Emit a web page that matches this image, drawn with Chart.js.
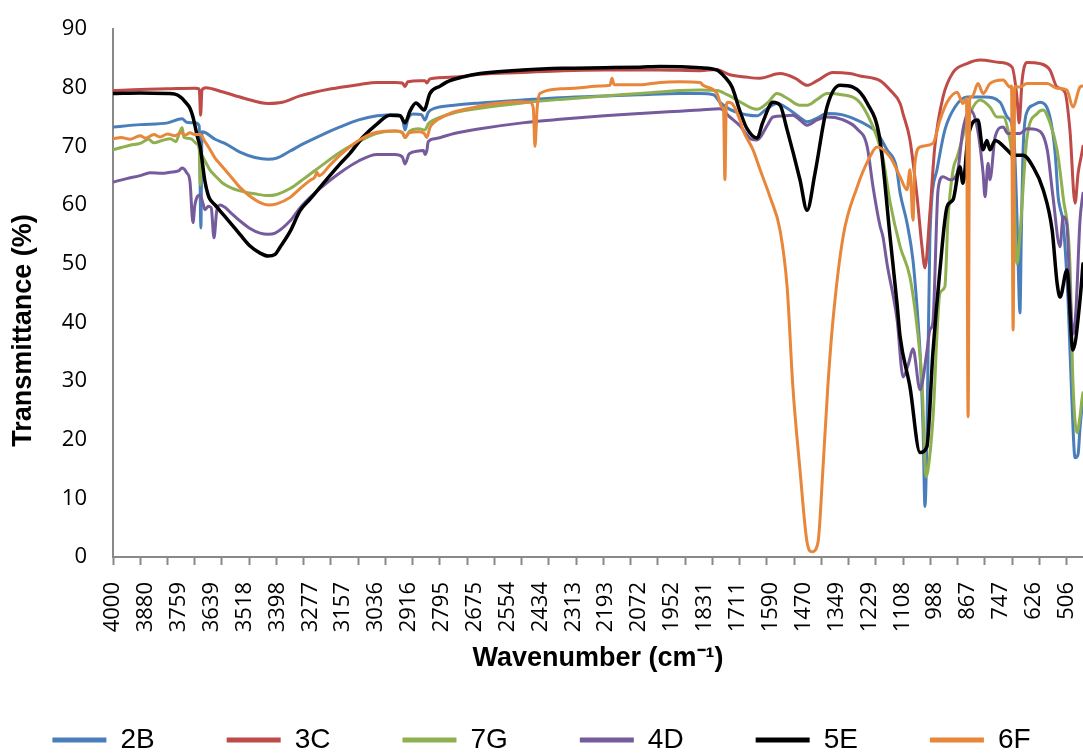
<!DOCTYPE html>
<html>
<head>
<meta charset="utf-8">
<title>FTIR spectra</title>
<script src="https://cdn.jsdelivr.net/npm/chart.js@4.4.1/dist/chart.umd.min.js"></script>
<style>
  html, body { margin: 0; padding: 0; background: #fff; }
  #wrap { width: 1083px; height: 753px; }
</style>
</head>
<body>
<div id="wrap"><canvas id="chart"></canvas></div>
<script>
// series names, in legend order
const seriesNames = ['2B', '3C', '7G', '4D', '5E', '6F'];

// category labels printed under the x axis (wavenumber, cm-1)
const xTickLabels = ['4000', '3880', '3759', '3639', '3518', '3398', '3277', '3157', '3036', '2916',
  '2795', '2675', '2554', '2434', '2313', '2193', '2072', '1952', '1831', '1711',
  '1590', '1470', '1349', '1229', '1108', '988', '867', '747', '626', '506'];

// 2B
const wn2B = [4000, 3900, 3800, 3747, 3730, 3700, 3684, 3678, 3674, 3660, 3626, 3590, 3535, 3480, 3432, 3400, 3351, 3300, 3242, 3168,
  3100, 3033, 2960, 2940, 2930, 2920, 2900, 2870, 2857, 2845, 2820, 2750, 2655, 2500, 2362, 2200, 2069, 1923, 1849, 1800,
  1776, 1740, 1714, 1680, 1640, 1610, 1567, 1530, 1480, 1457, 1420, 1384, 1330, 1280, 1237, 1200, 1164, 1130, 1116, 1091,
  1069, 1050, 1043, 1032, 1025, 1018, 1007, 981, 952, 915, 871, 805, 750, 724, 700, 688, 680, 677, 672, 665,
  650, 629, 603, 567, 548, 537, 530, 519, 501, 487, 475, 464, 457, 446];
const t2B = [73.3, 73.7, 74.0, 74.7, 74.1, 74.0, 73.5, 56.1, 72.5, 72.3, 71.2, 70.5, 69.0, 68.1, 67.8, 68.0, 69.2, 70.5, 71.8, 73.3,
  74.5, 75.2, 75.4, 74.8, 72.8, 74.6, 75.5, 75.4, 74.5, 75.8, 76.5, 77.0, 77.4, 77.9, 78.3, 78.6, 78.8, 79.0, 79.0, 78.8,
  77.5, 76.3, 75.8, 75.4, 75.2, 76.2, 77.3, 76.5, 74.8, 74.2, 74.8, 75.6, 75.4, 74.6, 73.6, 72.3, 69.4, 66.5, 62.0, 57.0,
  50.6, 40.0, 34.8, 22.0, 8.6, 20.0, 54.5, 66.0, 72.8, 76.7, 78.4, 78.4, 77.5, 75.0, 72.0, 58.0, 44.0, 41.6, 55.0, 70.0,
  76.0, 77.0, 77.5, 75.0, 68.8, 61.4, 59.5, 57.0, 44.0, 27.0, 16.9, 17.5, 22.0, 27.0];

// 3C
const wn3C = [4000, 3900, 3800, 3700, 3684, 3679, 3674, 3660, 3600, 3520, 3432, 3380, 3315, 3200, 3100, 3033, 2967, 2940, 2930, 2920,
  2875, 2857, 2850, 2839, 2750, 2655, 2500, 2350, 2200, 2000, 1849, 1790, 1740, 1680, 1630, 1556, 1500, 1457, 1420, 1362,
  1300, 1263, 1190, 1153, 1116, 1105, 1080, 1054, 1036, 1025, 1007, 989, 959, 922, 871, 823, 750, 706, 688, 680,
  669, 651, 603, 567, 541, 512, 494, 475, 464, 450, 446];
const t3C = [79.5, 79.7, 79.8, 79.9, 79.8, 75.3, 79.6, 80.0, 79.3, 78.2, 77.3, 77.5, 78.6, 79.8, 80.5, 80.9, 80.9, 80.8, 80.2, 81.0,
  81.2, 81.2, 80.8, 81.5, 81.8, 82.3, 82.6, 82.9, 83.0, 83.0, 82.9, 83.1, 82.2, 81.8, 81.6, 82.4, 81.6, 80.4, 81.2, 82.6,
  82.4, 82.0, 81.2, 79.6, 77.3, 75.5, 71.1, 61.4, 52.9, 49.3, 58.6, 69.9, 78.4, 82.6, 84.1, 84.7, 84.3, 83.5, 78.4, 74.0,
  81.3, 84.3, 84.1, 83.0, 80.1, 79.2, 72.8, 60.3, 65.4, 68.9, 70.0];

// 7G
const wn7G = [4000, 3970, 3938, 3900, 3870, 3850, 3820, 3790, 3770, 3755, 3747, 3740, 3715, 3695, 3684, 3680, 3676, 3663, 3645, 3626,
  3600, 3571, 3535, 3480, 3432, 3400, 3351, 3300, 3242, 3168, 3100, 3033, 2967, 2940, 2930, 2915, 2880, 2857, 2845, 2820,
  2750, 2655, 2500, 2362, 2200, 2069, 1923, 1849, 1787, 1750, 1703, 1660, 1640, 1600, 1567, 1530, 1483, 1457, 1420, 1384,
  1330, 1270, 1237, 1201, 1179, 1153, 1116, 1080, 1054, 1036, 1021, 1008, 996, 970, 952, 941, 922, 907, 860, 823,
  787, 761, 739, 721, 702, 688, 677, 651, 614, 592, 567, 541, 519, 494, 483, 468, 457, 450, 446];
const t7G = [69.4, 69.8, 70.2, 70.5, 71.2, 70.6, 71.0, 71.3, 70.8, 72.5, 73.2, 71.5, 71.3, 70.5, 69.5, 63.4, 68.5, 67.5, 66.0, 65.0,
  63.8, 63.0, 62.4, 61.9, 61.6, 61.8, 62.8, 64.5, 66.5, 69.0, 70.8, 72.2, 72.6, 72.4, 71.5, 72.5, 73.0, 72.8, 73.8, 74.6,
  75.7, 76.5, 77.4, 78.0, 78.6, 79.0, 79.5, 79.6, 79.5, 78.8, 77.6, 76.5, 76.3, 77.5, 79.0, 78.2, 77.0, 77.0, 78.0, 79.0,
  78.8, 77.8, 75.5, 71.6, 68.0, 60.5, 52.9, 47.7, 39.2, 30.0, 13.7, 17.0, 23.4, 45.0, 46.1, 57.4, 66.0, 68.2, 75.6, 77.9,
  76.7, 75.0, 75.0, 72.8, 66.0, 50.0, 55.0, 71.6, 75.6, 76.2, 74.0, 69.4, 61.4, 50.1, 30.0, 21.2, 24.0, 26.8, 28.0];

// 4D
const wn4D = [4000, 3950, 3900, 3864, 3820, 3790, 3760, 3747, 3730, 3718, 3707, 3700, 3681, 3670, 3663, 3650, 3640, 3630, 3620, 3608,
  3590, 3571, 3535, 3498, 3461, 3432, 3406, 3351, 3315, 3278, 3242, 3168, 3100, 3033, 2967, 2940, 2930, 2915, 2880, 2862,
  2857, 2850, 2845, 2820, 2750, 2655, 2500, 2362, 2200, 2069, 1923, 1849, 1776, 1740, 1703, 1660, 1640, 1600, 1582, 1540,
  1509, 1483, 1457, 1420, 1384, 1330, 1274, 1237, 1215, 1190, 1179, 1164, 1127, 1105, 1085, 1069, 1043, 1018, 1007, 996,
  977, 959, 933, 907, 886, 860, 834, 812, 805, 794, 787, 768, 739, 721, 677, 651, 614, 577, 556, 530,
  519, 505, 494, 483, 472, 457, 446];
const t4D = [63.9, 64.5, 65.0, 65.5, 65.4, 65.6, 65.8, 66.3, 65.5, 64.0, 57.0, 60.0, 61.7, 60.2, 59.2, 59.8, 59.5, 54.4, 59.0, 60.0,
  59.6, 58.8, 57.3, 56.0, 55.2, 55.0, 55.2, 57.3, 59.5, 61.3, 62.8, 65.5, 67.5, 68.6, 68.6, 68.2, 67.0, 68.7, 69.2, 69.3,
  68.6, 69.3, 70.8, 71.3, 72.2, 73.0, 74.0, 74.6, 75.2, 75.6, 76.0, 76.2, 76.4, 75.0, 73.5, 71.2, 71.1, 73.8, 75.0, 75.2,
  75.3, 74.5, 73.6, 74.5, 75.0, 74.6, 73.0, 70.0, 63.0, 56.5, 54.6, 50.0, 40.4, 30.7, 33.0, 35.5, 28.5, 35.0, 38.7, 40.0,
  62.6, 64.8, 64.3, 65.4, 72.8, 76.2, 73.3, 65.4, 61.4, 67.1, 64.3, 71.6, 73.3, 72.2, 72.2, 73.0, 72.8, 69.4, 61.4, 52.9,
  58.0, 56.6, 45.5, 38.0, 42.0, 57.4, 62.0];

// 5E
const wn5E = [4000, 3900, 3800, 3773, 3750, 3736, 3718, 3707, 3690, 3681, 3663, 3652, 3645, 3626, 3608, 3571, 3535, 3498, 3461, 3432,
  3406, 3388, 3351, 3315, 3278, 3242, 3168, 3132, 3084, 3033, 2985, 2948, 2930, 2912, 2890, 2860, 2839, 2800, 2776, 2720,
  2655, 2498, 2351, 2200, 2069, 1996, 1849, 1787, 1758, 1732, 1703, 1677, 1640, 1620, 1582, 1556, 1530, 1483, 1457, 1428,
  1384, 1336, 1289, 1237, 1190, 1153, 1127, 1116, 1080, 1043, 1018, 996, 970, 944, 922, 897, 886, 867, 831, 812,
  798, 787, 768, 724, 702, 666, 629, 592, 559, 541, 530, 505, 483, 457, 446];
const t5E = [79.0, 79.1, 79.0, 78.9, 78.3, 77.6, 76.5, 75.0, 71.5, 70.0, 64.0, 61.8, 61.0, 60.0, 59.0, 57.0, 55.0, 53.0, 51.8, 51.3,
  51.6, 52.8, 55.5, 59.0, 61.0, 63.0, 67.0, 68.8, 71.6, 73.8, 75.3, 75.2, 74.0, 76.0, 77.4, 76.2, 79.0, 80.3, 81.0, 81.8,
  82.4, 83.0, 83.3, 83.4, 83.5, 83.6, 83.4, 83.0, 81.8, 80.1, 76.0, 73.0, 71.4, 74.0, 77.5, 77.0, 72.8, 64.3, 59.1, 65.4,
  76.7, 80.4, 80.1, 77.4, 71.1, 54.6, 43.0, 37.5, 29.0, 17.8, 18.8, 34.8, 49.0, 59.7, 60.9, 66.5, 63.7, 71.6, 74.5, 69.4,
  71.0, 69.4, 71.0, 69.4, 68.5, 68.5, 66.5, 62.6, 55.7, 46.7, 44.3, 48.9, 35.3, 43.8, 50.0];

// 6F
const wn6F = [4000, 3970, 3938, 3901, 3880, 3850, 3828, 3800, 3773, 3750, 3736, 3718, 3700, 3681, 3663, 3645, 3626, 3608, 3571, 3535,
  3498, 3461, 3432, 3400, 3351, 3315, 3278, 3260, 3253, 3245, 3205, 3168, 3100, 3033, 2967, 2940, 2930, 2915, 2880, 2860,
  2850, 2839, 2820, 2765, 2692, 2600, 2509, 2472, 2460, 2454, 2446, 2436, 2362, 2289, 2216, 2179, 2172, 2164, 2069, 1996,
  1923, 1849, 1838, 1787, 1769, 1763, 1758, 1753, 1747, 1732, 1703, 1692, 1655, 1629, 1593, 1556, 1530, 1509, 1483, 1457,
  1439, 1417, 1399, 1381, 1362, 1325, 1274, 1227, 1201, 1153, 1116, 1091, 1080, 1069, 1062, 1043, 996, 970, 944, 907,
  886, 873, 867, 861, 853, 831, 812, 787, 739, 713, 708, 702, 696, 677, 651, 577, 541, 505, 483, 457, 446];
const t6F = [71.3, 71.5, 71.2, 71.8, 71.4, 72.0, 71.6, 72.1, 71.8, 72.3, 71.9, 72.3, 72.0, 72.0, 70.8, 69.5, 68.0, 67.0, 65.0, 63.0,
  61.5, 60.4, 60.0, 60.2, 61.3, 62.8, 64.2, 64.8, 65.6, 65.0, 66.8, 68.5, 71.0, 72.4, 72.6, 72.3, 71.5, 72.3, 72.5, 72.2,
  71.5, 73.2, 74.2, 75.6, 76.5, 77.3, 77.6, 77.5, 76.5, 70.0, 76.5, 79.0, 79.8, 80.0, 80.3, 80.4, 81.6, 80.5, 80.5, 80.9,
  81.0, 80.9, 80.4, 79.0, 76.7, 76.3, 64.3, 77.0, 77.5, 77.3, 74.5, 72.8, 69.4, 66.0, 61.4, 55.7, 46.0, 29.0, 14.9, 2.5,
  0.9, 2.5, 14.9, 29.0, 40.4, 54.6, 63.0, 68.2, 69.9, 68.2, 64.8, 62.6, 66.0, 57.4, 67.0, 69.9, 70.5, 74.5, 77.5, 79.2,
  77.3, 78.2, 23.9, 78.4, 78.4, 80.7, 79.0, 80.7, 81.3, 80.1, 80.3, 38.7, 80.2, 80.1, 80.7, 80.7, 79.9, 79.6, 76.7, 80.1,
  80.3];

const wavenumbers = [wn2B, wn3C, wn7G, wn4D, wn5E, wn6F];
const transmittance = [t2B, t3C, t7G, t4D, t5E, t6F];
const lineColors = ['#4A7EBB', '#BE4B48', '#8FB050', '#765B9C', '#000000', '#E8863A'];

const axisGray = '#898989';
const tickFont = { family: 'Open Sans', size: 22 };
const titleFont = { family: 'Liberation Sans', size: 27, weight: 'bold' };
const tickStep = (4000 - 506) / 35;

const datasets = seriesNames.map((name, i) => ({
  label: name,
  data: wavenumbers[i].map((w, j) => ({ x: w, y: transmittance[i][j] })),
  borderColor: lineColors[i],
  backgroundColor: lineColors[i],
  borderWidth: name === '5E' ? 3.5 : 3,
  pointRadius: 0,
  fill: false,
  cubicInterpolationMode: 'monotone',
  borderJoinStyle: 'round',
  borderCapStyle: 'round',
  order: seriesNames.length - i   // later series drawn on top, as in the original
}));

new Chart(document.getElementById('chart').getContext('2d'), {
  type: 'line',
  data: { datasets },
  options: {
    responsive: true,
    maintainAspectRatio: false,
    animation: false,
    devicePixelRatio: 1,
    parsing: false,
    layout: { padding: { top: 29, right: 0, bottom: -11, left: 0 } },
    plugins: {
      tooltip: { enabled: false },
      legend: {
        position: 'bottom',
        labels: {
          boxWidth: 54,
          boxHeight: 5,
          padding: 2,
          color: '#000',
          font: { family: 'Liberation Sans', size: 28 },
          generateLabels(chart) {
            const sets = chart.data.datasets;
            return sets.map((ds, i) => ({
              text: ds.label + (i < sets.length - 1 ? ' '.repeat(9) : ''),
              fillStyle: ds.borderColor,
              strokeStyle: ds.borderColor,
              lineWidth: 0,
              fontColor: '#000',
              hidden: false,
              datasetIndex: i
            }));
          }
        }
      }
    },
    scales: {
      x: {
        type: 'linear',
        reverse: true,
        min: 446,
        max: 4000,
        afterBuildTicks(scale) {
          const ticks = xTickLabels.map(l => ({ value: Number(l), text: l, kind: 'label' }));
          for (let i = 0; i <= 35; i++) ticks.push({ value: 4000 - i * tickStep, text: '', kind: 'mark' });
          ticks.sort((a, b) => b.value - a.value);
          scale.ticks = ticks;
        },
        afterFit(scale) {
          scale.height = 167;
          scale.paddingLeft = 0;
          scale.paddingRight = 0;
        },
        ticks: {
          autoSkip: false,
          minRotation: 90,
          maxRotation: 90,
          padding: 17,
          color: '#000',
          font: tickFont,
          callback(value, index, ticks) { return ticks[index].text; }
        },
        grid: {
          drawOnChartArea: false,
          tickLength: 8,
          tickWidth: 2,
          tickColor: ctx => (ctx.tick && ctx.tick.kind === 'mark') ? axisGray : 'rgba(0,0,0,0)'
        },
        border: { display: true, color: axisGray, width: 2 },
        title: {
          display: true,
          text: 'Wavenumber (cm\u207B\u00B9)',
          color: '#000',
          font: titleFont,
          padding: { top: 0, bottom: 49 }
        }
      },
      y: {
        min: 0,
        max: 90,
        afterFit(scale) {
          scale.width = 113;
          scale.paddingTop = 0;
          scale.paddingBottom = 0;
        },
        ticks: { stepSize: 10, padding: 26, color: '#000', font: tickFont },
        grid: { display: false, drawTicks: false },
        border: { display: true, color: axisGray, width: 2 },
        title: {
          display: true,
          // trailing blanks push the title down, where Excel had put it
          text: 'Transmittance (%)' + ' '.repeat(10),
          color: '#000',
          font: titleFont,
          padding: { top: 7, bottom: 0 }
        }
      }
    }
  }
});
</script>
</body>
</html>
